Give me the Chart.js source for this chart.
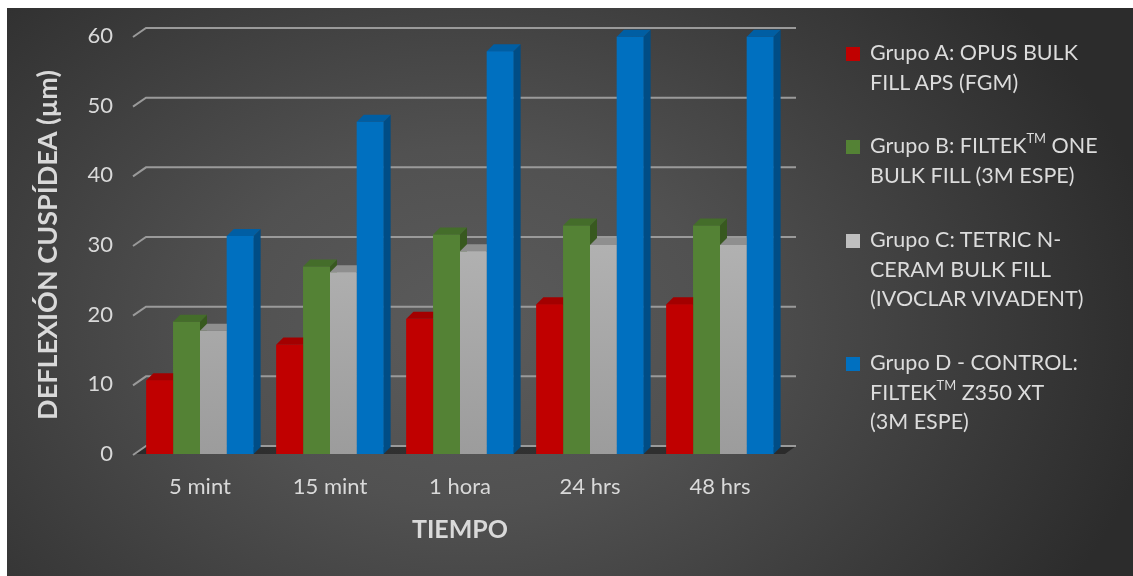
<!DOCTYPE html>
<html>
<head>
<meta charset="utf-8">
<script src="https://cdn.jsdelivr.net/npm/chart.js@4.4.1/dist/chart.umd.min.js"></script>
<style>
    body { margin: 0; background: #ffffff; }
    #wrap { position: relative; width: 1133px; height: 576px; overflow: hidden; }
    #bg {
        position: absolute; left: 7px; top: 8px; width: 1126px; height: 568px;
        background: radial-gradient(ellipse 62% 90% at 41% 56%, #5b5b5b 0%, #515151 35%, #3d3d3d 70%, #2c2c2c 100%);
    }
    #chart { position: absolute; left: 0; top: 0; }
    #legend {
        position: absolute; left: 846px; top: 38px;
        font-family: Lato, "Open Sans", sans-serif; font-size: 21.5px; color: #dcdcdc;
    }
    .item { position: relative; padding-left: 24px; margin-bottom: 34px; line-height: 29.7px; }
    .box { position: absolute; left: 0; top: 9px; width: 14px; height: 14px; }
    .item sup { font-size: 0.6em; line-height: 0; vertical-align: 0.75em; }
</style>
</head>
<body>
<div id="wrap">
    <div id="bg"></div>
    <canvas id="chart" width="1133" height="576"></canvas>
    <div id="legend"></div>
</div>
<script>
// data
const categories = ["5 mint", "15 mint", "1 hora", "24 hrs", "48 hrs"];
const grupo_a = [10.6, 15.7, 19.4, 21.5, 21.5];
const grupo_b = [19.0, 26.9, 31.5, 32.8, 32.8];
const grupo_c = [17.7, 26.1, 29.1, 30.0, 30.0];
const grupo_d = [31.3, 47.7, 57.8, 59.9, 59.9];

const label_a = ["Grupo A: OPUS BULK", "FILL APS (FGM)"];
const label_b = ["Grupo B: FILTEK™ ONE", "BULK FILL (3M ESPE)"];
const label_c = ["Grupo C: TETRIC N-", "CERAM BULK FILL", "(IVOCLAR VIVADENT)"];
const label_d = ["Grupo D - CONTROL:", "FILTEK™ Z350 XT", "(3M ESPE)"];

const y_title = "DEFLEXIÓN CUSPÍDEA (µm)";
const x_title = "TIEMPO";

const text_color = "#d9d9d9";
const font_family = "Lato, 'Open Sans', sans-serif";

// front, top and side colours of each series
const faces = [
    { front: "#c00000", top: "#a30000", side: "#870000", legend: "#c00000" },
    { front: "#548235", top: "#446d2a", side: "#38591f", legend: "#548235" },
    { front: "gray", top: "#8f8f8f", side: "#7a7a7a", legend: "#bfbfbf" },
    { front: "#0070c0", top: "#005ea3", side: "#004d86", legend: "#0070c0" }
];

const BAR_DX = 7, BAR_DY = 7;
const WALL_DX = 11, WALL_DY = 8;

function front_fill(ctx, area, i) {
    if (faces[i].front !== "gray") {
        return faces[i].front;
    }
    let g = ctx.createLinearGradient(0, area.top, 0, area.bottom);
    g.addColorStop(0, "#c6c6c6");
    g.addColorStop(1, "#9c9c9c");
    return g;
}

const bars3d = {
    id: "bars3d",
    beforeDatasetsDraw(chart) {
        const ctx = chart.ctx;
        const a = chart.chartArea;
        const y = chart.scales.y;
        const y0 = y.getPixelForValue(0);
        ctx.save();
        // floor
        ctx.fillStyle = "rgba(20,20,20,0.55)";
        ctx.beginPath();
        ctx.moveTo(a.left, y0);
        ctx.lineTo(a.left + WALL_DX, y0 - WALL_DY);
        ctx.lineTo(a.right + WALL_DX, y0 - WALL_DY);
        ctx.lineTo(a.right, y0);
        ctx.closePath();
        ctx.fill();
        // back wall grid lines
        ctx.strokeStyle = "#9a9a9a";
        ctx.lineWidth = 2;
        y.ticks.forEach((t) => {
            const py = y.getPixelForValue(t.value);
            ctx.beginPath();
            ctx.moveTo(a.left - 2, py + 1);
            ctx.lineTo(a.left + WALL_DX, py - WALL_DY);
            ctx.lineTo(a.right + WALL_DX, py - WALL_DY);
            ctx.stroke();
        });
        ctx.restore();
    },
    afterDatasetsDraw(chart) {
        const ctx = chart.ctx;
        const a = chart.chartArea;
        const n = chart.data.labels.length;
        ctx.save();
        for (let j = 0; j < n; j++) {
            chart.data.datasets.forEach((ds, i) => {
                const bar = chart.getDatasetMeta(i).data[j];
                const l = bar.x - bar.width / 2;
                const r = bar.x + bar.width / 2;
                const t = bar.y;
                const b = bar.base;
                // front
                ctx.fillStyle = front_fill(ctx, a, i);
                ctx.fillRect(l, t, r - l, b - t);
                // side
                ctx.fillStyle = faces[i].side;
                ctx.beginPath();
                ctx.moveTo(r, t);
                ctx.lineTo(r + BAR_DX, t - BAR_DY);
                ctx.lineTo(r + BAR_DX, b - BAR_DY);
                ctx.lineTo(r, b);
                ctx.closePath();
                ctx.fill();
                // top
                ctx.fillStyle = faces[i].top;
                ctx.beginPath();
                ctx.moveTo(l, t);
                ctx.lineTo(l + BAR_DX, t - BAR_DY);
                ctx.lineTo(r + BAR_DX, t - BAR_DY);
                ctx.lineTo(r, t);
                ctx.closePath();
                ctx.fill();
            });
        }
        ctx.restore();
    }
};

const series = [grupo_a, grupo_b, grupo_c, grupo_d];
const labels = [label_a, label_b, label_c, label_d];

let chart = new Chart(document.getElementById("chart"), {
    type: "bar",
    data: {
        labels: categories,
        datasets: series.map((values, i) => ({
            label: labels[i].join(" "),
            data: values,
            backgroundColor: faces[i].legend,
            borderWidth: 0,
            barPercentage: 1.0,
            categoryPercentage: 0.825
        }))
    },
    options: {
        responsive: false,
        devicePixelRatio: 1,
        animation: false,
        layout: {
            padding: { left: 25, right: 348, top: 36, bottom: 27 }
        },
        plugins: {
            legend: { display: false },
            tooltip: { enabled: false }
        },
        scales: {
            x: {
                grid: { display: false, drawTicks: false },
                border: { display: false },
                ticks: {
                    color: text_color,
                    padding: 20,
                    font: { family: font_family, size: 22 }
                },
                title: {
                    display: true,
                    text: x_title,
                    color: text_color,
                    padding: { top: 0, bottom: 4 },
                    font: { family: font_family, size: 25, weight: "bold" }
                },
                afterFit(scale) {
                    scale.height = 95;
                }
            },
            y: {
                min: 0,
                max: 60,
                grid: { display: false, drawTicks: false },
                border: { display: false },
                ticks: {
                    stepSize: 10,
                    color: text_color,
                    padding: 22,
                    font: { family: font_family, size: 22 }
                },
                title: {
                    display: true,
                    text: y_title,
                    color: text_color,
                    padding: { top: 7, bottom: 0 },
                    font: { family: font_family, size: 27, weight: "bold" }
                },
                afterFit(scale) {
                    scale.width = 110;
                }
            }
        }
    },
    plugins: [bars3d]
});

// html legend with the line breaks of the original
let legend = document.getElementById("legend");
labels.forEach((lines, i) => {
    let item = document.createElement("div");
    item.className = "item";
    let html = '<span class="box" style="background:' + faces[i].legend + '"></span>';
    html += lines.map((s) => s.replace("™", "<sup>TM</sup>")).join("<br>");
    item.innerHTML = html;
    legend.appendChild(item);
});
</script>
</body>
</html>
